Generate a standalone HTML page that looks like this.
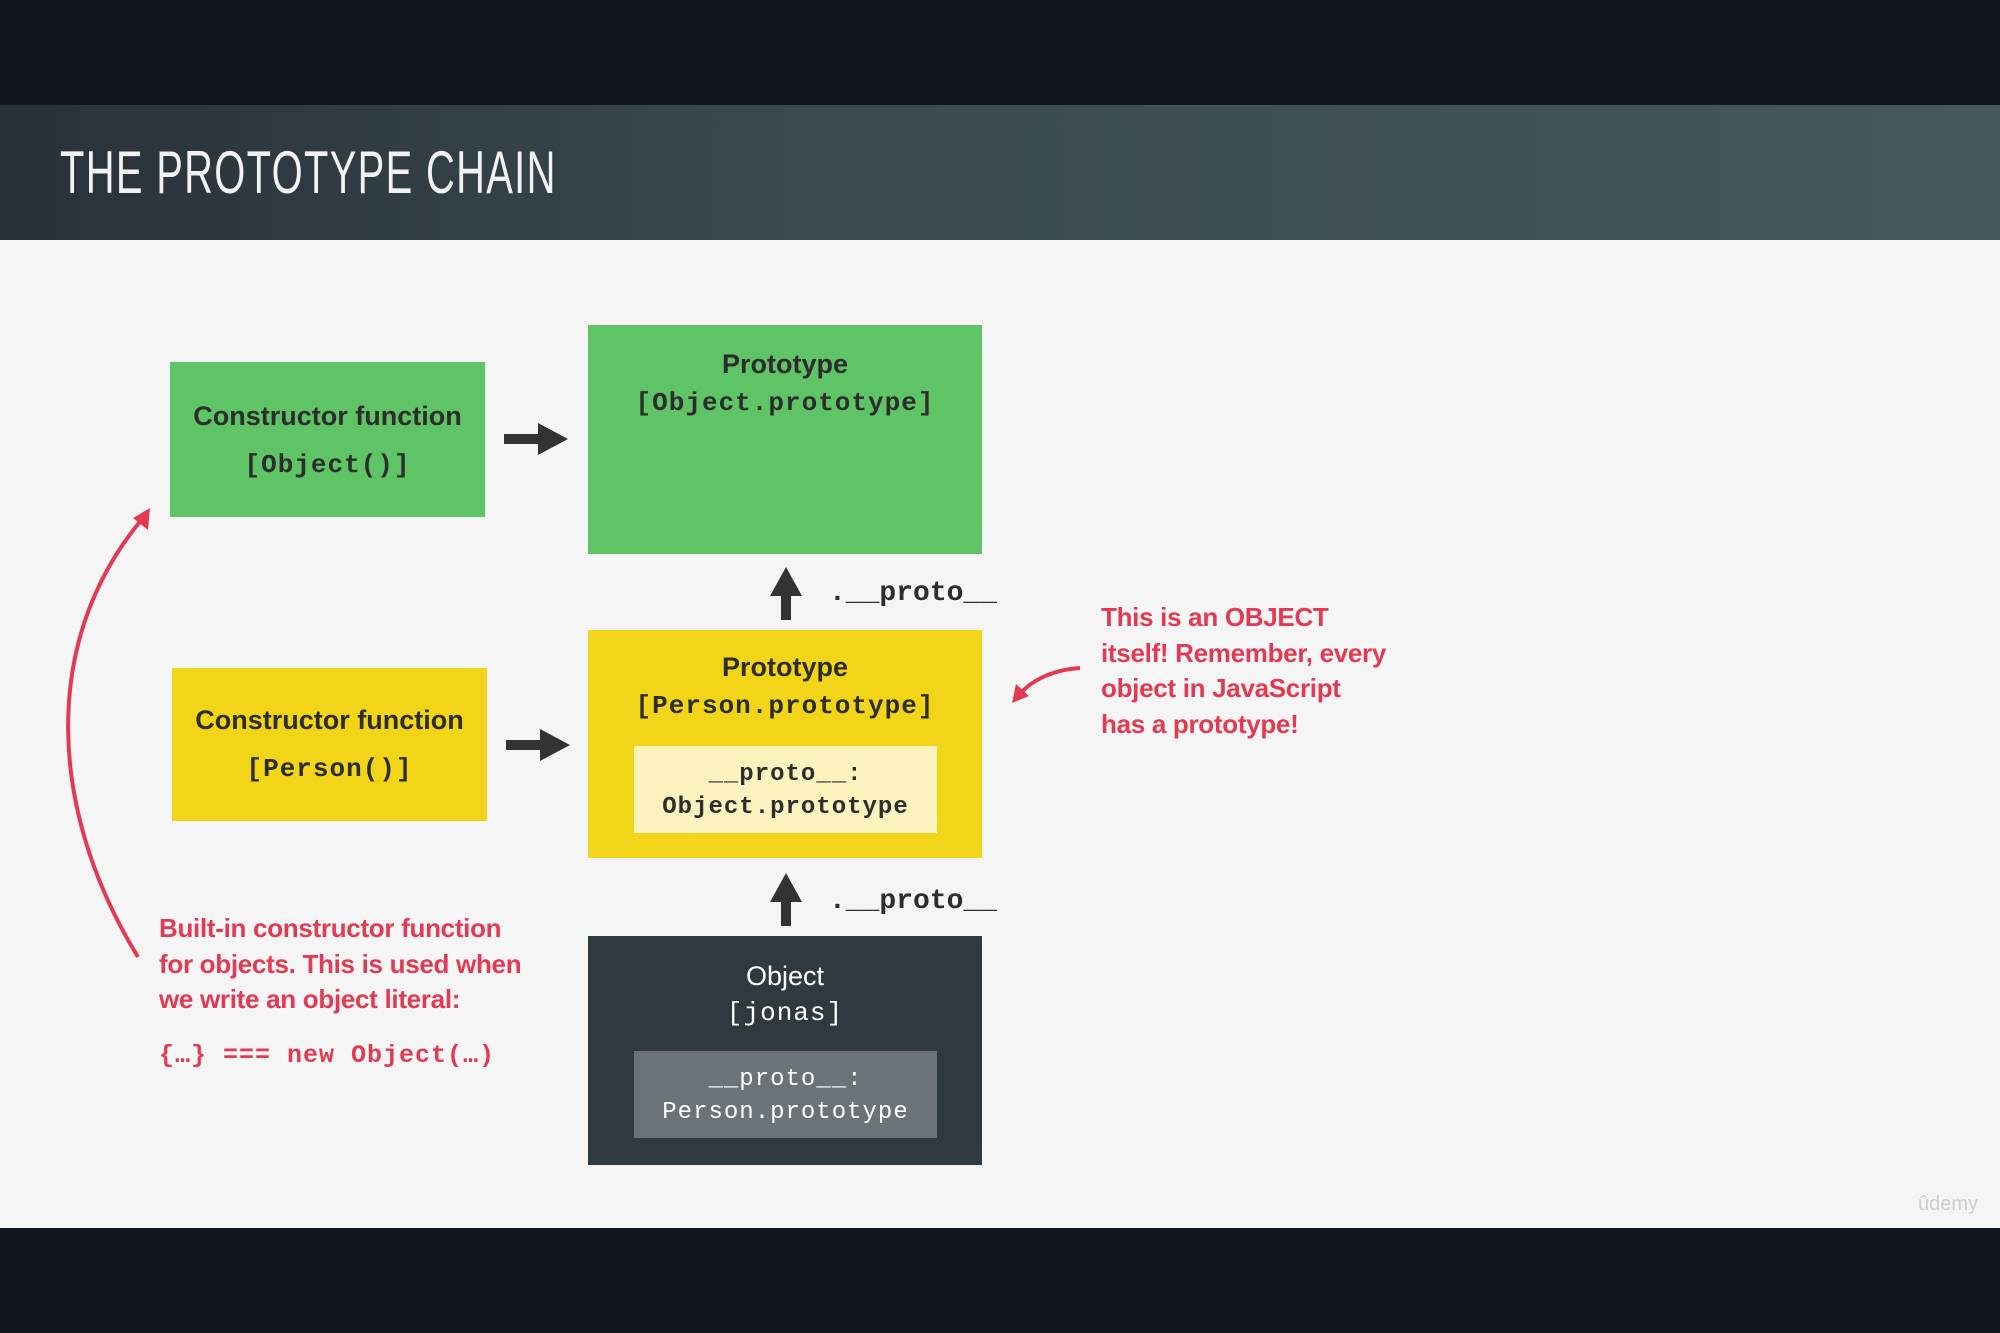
<!DOCTYPE html>
<html><head><meta charset="utf-8"><style>
*{margin:0;padding:0;box-sizing:border-box}
body{width:2000px;height:1333px;background:#12161e;position:relative;overflow:hidden;font-family:"Liberation Sans",sans-serif}
.abs{position:absolute}
.hdr{left:0;top:105px;width:2000px;height:135px;background:linear-gradient(90deg,#283137 0%,#3a4a50 40%,#46585c 100%)}
.title{left:60px;top:138px;color:#f2f2f2;font-size:60px;letter-spacing:2px;transform:scaleX(0.665);transform-origin:left top;font-family:"Liberation Sans",sans-serif}
.content{left:0;top:240px;width:2000px;height:988px;background:#f5f5f5}
.box{position:absolute;text-align:center;color:#2d2d2d}
.b{font-weight:bold;font-size:27px}
.m{font-family:"Liberation Mono",monospace;font-weight:bold;font-size:26px;letter-spacing:1px}
.red{color:#e23a52;font-size:26px;font-weight:bold;line-height:35.5px;letter-spacing:-0.3px}
.lbl{font-family:"Liberation Mono",monospace;font-weight:bold;font-size:28px;color:#2d2d2d}
</style></head><body>
<div class="abs hdr"></div>
<div class="abs title">THE PROTOTYPE CHAIN</div>
<div class="abs content"></div>

<div class="box" style="left:170px;top:362px;width:315px;height:155px;background:#5fc466">
 <div class="b" style="margin-top:39px">Constructor function</div>
 <div class="m" style="margin-top:18px">[Object()]</div>
</div>
<div class="box" style="left:588px;top:325px;width:394px;height:229px;background:#5fc466">
 <div class="b" style="margin-top:24px">Prototype</div>
 <div class="m" style="margin-top:8px">[Object.prototype]</div>
</div>

<div class="box" style="left:172px;top:668px;width:315px;height:153px;background:#f2d519">
 <div class="b" style="margin-top:37px">Constructor function</div>
 <div class="m" style="margin-top:18px">[Person()]</div>
</div>
<div class="box" style="left:588px;top:630px;width:394px;height:228px;background:#f2d519">
 <div class="b" style="margin-top:22px">Prototype</div>
 <div class="m" style="margin-top:8px">[Person.prototype]</div>
 <div class="m" style="position:absolute;left:46px;top:116px;width:303px;height:87px;background:#fcf2bd;font-size:24px;line-height:33px;padding-top:12px">__proto__:<br>Object.prototype</div>
</div>

<div class="box" style="left:588px;top:936px;width:394px;height:229px;background:#2f3a40;color:#fff">
 <div class="b" style="margin-top:25px;font-weight:normal">Object</div>
 <div class="m" style="margin-top:6px;font-weight:normal">[jonas]</div>
 <div class="m" style="position:absolute;left:46px;top:115px;width:303px;height:87px;background:#6b7378;font-size:24px;line-height:33px;padding-top:12px;color:#fff;font-weight:normal">__proto__:<br>Person.prototype</div>
</div>

<div class="abs lbl" style="left:829px;top:578px">.__proto__</div>
<div class="abs lbl" style="left:829px;top:886px">.__proto__</div>

<div class="abs red" style="left:1101px;top:600px">This is an OBJECT<br>itself! Remember, every<br>object in JavaScript<br>has a prototype!</div>
<div class="abs red" style="left:159px;top:911px">Built-in constructor function<br>for objects. This is used when<br>we write an object literal:</div>
<div class="abs" style="left:159px;top:1041px;color:#e23a52;font-family:'Liberation Mono',monospace;font-weight:bold;font-size:25px;letter-spacing:1px">{…} === new Object(…)</div>
<div class="abs" style="left:1918px;top:1193px;color:#ccc;font-size:20px">ûdemy</div>

<svg class="abs" style="left:0;top:0" width="2000" height="1333">
 <g fill="#333">
  <rect x="504" y="434" width="36" height="10"/><polygon points="538,423 568,439 538,455"/>
  <rect x="506" y="740" width="36" height="10"/><polygon points="540,729 570,745 540,761"/>
  <rect x="781" y="594" width="10" height="26"/><polygon points="770,596 786,567 802,596"/>
  <rect x="781" y="900" width="10" height="26"/><polygon points="770,902 786,873 802,902"/>
 </g>
 <g fill="none" stroke="#e23a52" stroke-width="4">
  <path d="M138,957 C48,810 40,640 143,518"/>
  <path d="M1080,668 C1050,670 1030,682 1020,694"/>
 </g>
 <g fill="#e23a52">
  <polygon points="150,508 148,530 133,518"/>
  <polygon points="1012,703 1016,684 1029,696"/>
 </g>
</svg>
</body></html>
